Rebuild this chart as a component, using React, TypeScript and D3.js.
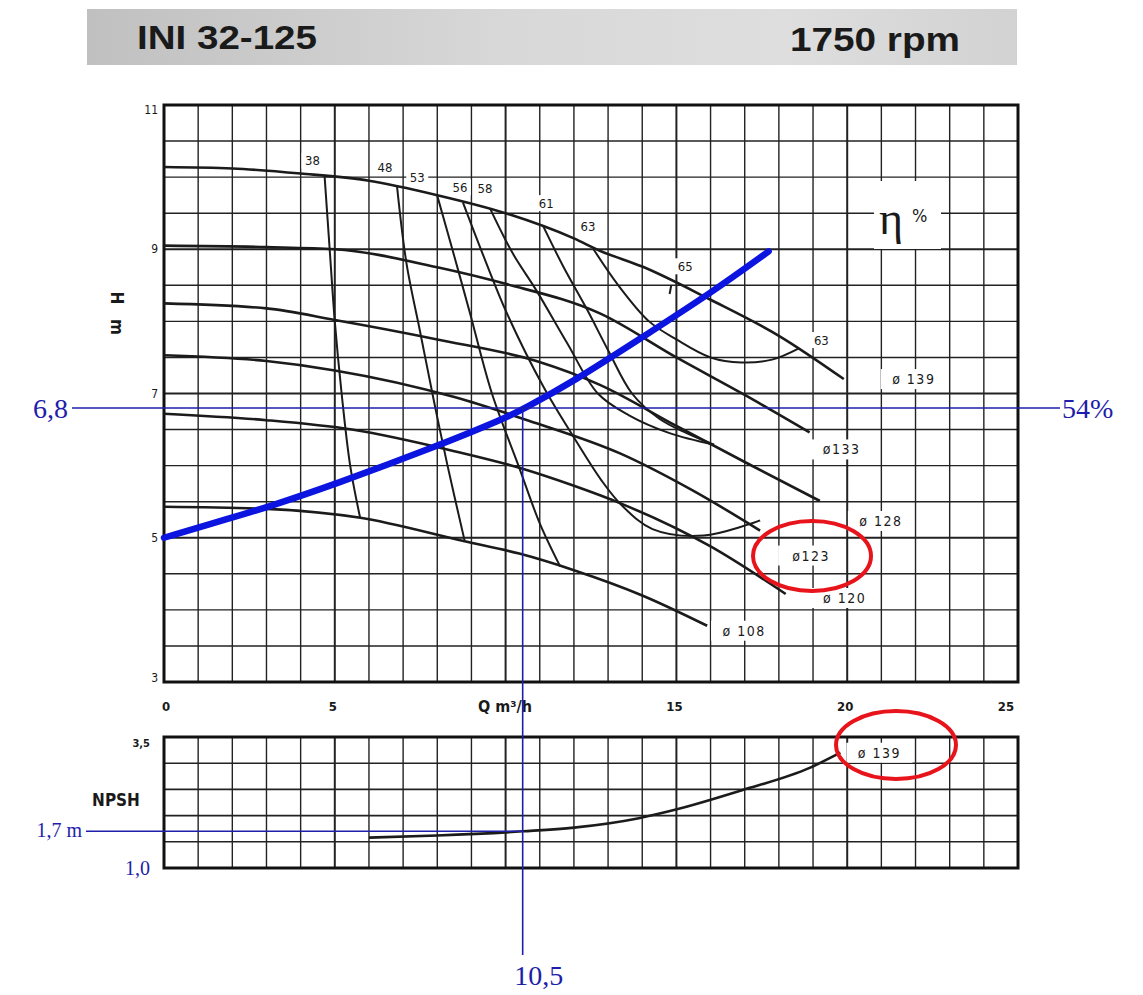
import React from "react";
import * as d3 from "d3";

// header
const modelName = "INI 32-125";
const speedLabel = "1750 rpm";

// axis ticks
const flowTicks = [0, 5, 15, 20, 25];
const headTicks = [3, 5, 7, 9, 11];
const flowUnit = "Q m³/h";

// head curves per impeller diameter  [Q m3/h, H m]
const curve139 = [[0, 10.14], [2, 10.12], [4, 10.05], [6, 9.95], [8, 9.75], [10, 9.5], [12, 9.15], [12.76, 8.98], [14, 8.76], [16, 8.3], [18, 7.8], [19.9, 7.2]];
const curve133 = [[0, 9.05], [3, 9.03], [5, 9.0], [8, 8.75], [10, 8.52], [12.76, 8.11], [15, 7.5], [17, 6.98], [18.9, 6.46]];
const curve128 = [[0, 8.25], [3, 8.18], [5, 8.02], [8, 7.75], [10.9, 7.45], [12.76, 7.12], [15, 6.55], [17, 6.05], [19.2, 5.51]];
const curve123 = [[0, 7.53], [3, 7.45], [5, 7.32], [8.5, 6.95], [10.7, 6.62], [13.35, 6.17], [15.5, 5.65], [17.45, 5.1]];
const curve120 = [[0, 6.72], [3, 6.63], [5.5, 6.5], [8.5, 6.2], [10.4, 5.97], [12, 5.72], [13.4, 5.47], [16, 4.88], [18.2, 4.22]];
const curve108 = [[0, 5.43], [3, 5.4], [5.7, 5.28], [8.8, 4.95], [10.4, 4.78], [12, 4.55], [14, 4.2], [15.9, 3.78]];

// iso-efficiency lines
const eta38 = [[4.7, 10.02], [4.85, 9.0], [5.0, 8.0], [5.2, 7.0], [5.45, 6.0], [5.74, 5.28]];
const eta48 = [[6.82, 9.88], [7.1, 8.8], [7.5, 7.85], [7.9, 6.9], [8.3, 6.0], [8.8, 4.96]];
const eta53 = [[8.0, 9.74], [8.5, 8.9], [8.96, 8.11], [9.6, 7.0], [10.4, 5.97], [11.0, 5.2], [11.6, 4.6]];
const eta56 = [[8.75, 9.65], [9.4, 8.85], [10.04, 8.11], [11.1, 7.1], [12.0, 6.39], [12.8, 5.8], [13.4, 5.45], [14.3, 5.12], [15.8, 5.03], [17.45, 5.24]];
const eta58 = [[9.54, 9.57], [10.2, 8.95], [10.9, 8.43], [11.8, 7.7], [12.7, 7.0], [13.6, 6.7], [14.8, 6.45], [16.1, 6.29]];
const eta61 = [[11.1, 9.32], [11.7, 8.75], [12.4, 8.15], [13.0, 7.6], [13.7, 7.0], [14.5, 6.65], [15.3, 6.45], [16.1, 6.29]];
const eta63 = [[12.56, 9.01], [13.3, 8.5], [14.2, 8.0], [15.0, 7.75], [16.0, 7.5], [16.9, 7.43], [17.8, 7.47], [18.6, 7.63]];
const eta65 = [[14.85, 8.5], [14.8, 8.38]];

// NPSH required, dia 139  [Q m3/h, NPSH m]
const npsh139 = [[6, 1.58], [8, 1.62], [10.5, 1.7], [12, 1.77], [13.9, 1.95], [14.9, 2.1], [16.9, 2.48], [18.9, 2.91], [19.8, 3.2]];

// system curve and duty point
const systemCurve = [[0, 5.0], [2, 5.28], [3, 5.42], [5, 5.74], [8, 6.27], [10, 6.66], [10.5, 6.78], [12, 7.17], [14, 7.78], [16, 8.39], [17.7, 8.97]];
const dutyFlow = 10.5;
const dutyHead = 6.8;
const dutyNpsh = 1.7;
const dutyEff = "54%";

const BLUE = "#1e1eaa";
const FONT = "'DejaVu Sans Condensed', 'DejaVu Sans', sans-serif";
const SERIF = "'Liberation Serif', 'DejaVu Serif', serif";

export default function App() {
  const x = d3.scaleLinear().domain([0, 25]).range([164, 1018]);
  const y = d3.scaleLinear().domain([3, 11]).range([682, 105]);
  const yN = d3.scaleLinear().domain([1, 3.5]).range([868, 737]);

  const hqLine = d3.line<number[]>().x((d) => x(d[0])).y((d) => y(d[1])).curve(d3.curveMonotoneX);
  const isoLine = d3.line<number[]>().x((d) => x(d[0])).y((d) => y(d[1])).curve(d3.curveCatmullRom.alpha(0.5));
  const npshLine = d3.line<number[]>().x((d) => x(d[0])).y((d) => yN(d[1])).curve(d3.curveMonotoneX);
  const sysLine = d3.line<number[]>().x((d) => x(d[0])).y((d) => y(d[1])).curve(d3.curveBasis);

  const diameters = [
    { name: "ø 139", data: curve139, dx: 70, dy: 0 },
    { name: "ø133", data: curve133, dx: 32, dy: 17 },
    { name: "ø 128", data: curve128, dx: 61, dy: 20 },
    { name: "ø123", data: curve123, dx: 51, dy: 25 },
    { name: "ø 120", data: curve120, dx: 59, dy: 4 },
    { name: "ø 108", data: curve108, dx: 37, dy: 5 },
  ];

  const isos = [
    { data: eta38, labels: [{ t: "38", at: 0, dx: -12, dy: -15 }] },
    { data: eta48, labels: [{ t: "48", at: 0, dx: -12, dy: -18 }] },
    { data: eta53, labels: [{ t: "53", at: 0, dx: -20, dy: -18 }] },
    { data: eta56, labels: [{ t: "56", at: 0, dx: -3, dy: -15 }] },
    { data: eta58, labels: [{ t: "58", at: 0, dx: -5, dy: -20 }] },
    { data: eta61, labels: [{ t: "61", at: 0, dx: 3, dy: -23 }] },
    { data: eta63, labels: [{ t: "63", at: 0, dx: -5, dy: -22 }, { t: "63", at: -1, dx: 22, dy: -8 }] },
    { data: eta65, labels: [{ t: "65", at: 0, dx: 14, dy: -19 }] },
  ];

  const isoLabels = isos.flatMap((s) =>
    s.labels.map((l) => {
      const p = l.at === 0 ? s.data[0] : s.data[s.data.length - 1];
      return { t: l.t, cx: x(p[0]) + l.dx, cy: y(p[1]) + l.dy };
    })
  );
  const diaLabels = diameters.map((d) => {
    const p = d.data[d.data.length - 1];
    return { t: d.name, cx: x(p[0]) + d.dx, cy: y(p[1]) + d.dy };
  });

  const qGrid = d3.range(0, 26);
  const hGrid = d3.range(3, 11.01, 0.5);
  const nGrid = d3.range(1, 3.51, 0.5);

  const xd = x(dutyFlow);
  const yd = y(dutyHead);
  const yn = yN(dutyNpsh);
  const npshEnd = npsh139[npsh139.length - 1];

  return (
    <svg width={1143} height={995} style={{ position: "absolute", left: 0, top: 0, background: "#fff" }}>
      <defs>
        <linearGradient id="band" x1="0" x2="1" y1="0" y2="0">
          <stop offset="0" stopColor="#c0c0c0" />
          <stop offset="0.45" stopColor="#d8d8d8" />
          <stop offset="0.75" stopColor="#dedede" />
          <stop offset="1" stopColor="#d2d2d2" />
        </linearGradient>
      </defs>

      {/* header band */}
      <rect x={87} y={9} width={930} height={56} fill="url(#band)" />
      <text x={137} y={49} fontFamily="'Liberation Sans', Arial, sans-serif" fontWeight="bold" fontSize={34}
        textLength={180} lengthAdjust="spacingAndGlyphs" fill="#1a1a1a">{modelName}</text>
      <text x={790} y={51} fontFamily="'Liberation Sans', Arial, sans-serif" fontWeight="bold" fontSize={34}
        textLength={170} lengthAdjust="spacingAndGlyphs" fill="#1a1a1a">{speedLabel}</text>

      {/* main grid */}
      <g stroke="#222">
        {qGrid.map((q) => (
          <line key={"q" + q} x1={x(q)} x2={x(q)} y1={y(11)} y2={y(3)} strokeWidth={q % 5 === 0 ? 2 : 1.4} />
        ))}
        {hGrid.map((h) => (
          <line key={"h" + h} x1={x(0)} x2={x(25)} y1={y(h)} y2={y(h)} strokeWidth={h % 2 === 1 ? 1.9 : 1.4} />
        ))}
      </g>
      <rect x={x(0)} y={y(11)} width={x(25) - x(0)} height={y(3) - y(11)} fill="none" stroke="#111" strokeWidth={3} />

      {/* label knock-outs */}
      <g fill="#fff">
        {isoLabels.map((l, i) => (
          <rect key={"ib" + i} x={l.cx - 11} y={l.cy - 8} width={22} height={16} />
        ))}
        {diaLabels.map((l, i) => (
          <rect key={"db" + i} x={l.cx - 33} y={l.cy - 10} width={66} height={20} />
        ))}
        <rect x={874} y={181} width={67} height={68} />
      </g>

      {/* head curves */}
      <g fill="none" stroke="#1b1b1b" strokeWidth={2.6}>
        {diameters.map((d) => (
          <path key={d.name} d={hqLine(d.data) || ""} />
        ))}
      </g>
      {/* efficiency lines */}
      <g fill="none" stroke="#1b1b1b" strokeWidth={2}>
        {isos.map((s, i) => (
          <path key={"e" + i} d={isoLine(s.data) || ""} />
        ))}
      </g>

      {/* labels */}
      <g fontFamily={FONT} fontSize={13} fill="#1a1a1a" textAnchor="middle" dominantBaseline="central">
        {isoLabels.map((l, i) => (
          <text key={"il" + i} x={l.cx} y={l.cy}>{l.t}</text>
        ))}
      </g>
      <g fontFamily={FONT} fontSize={14} fill="#1a1a1a" textAnchor="middle" dominantBaseline="central" letterSpacing={1.5}>
        {diaLabels.map((l, i) => (
          <text key={"dl" + i} x={l.cx} y={l.cy}>{l.t}</text>
        ))}
      </g>
      <text x={879} y={234} fontFamily={SERIF} fontSize={46} fill="#1a1a1a">η</text>
      <text x={912} y={222} fontFamily={FONT} fontSize={18} fill="#1a1a1a">%</text>

      {/* axes text */}
      <g fontFamily={FONT} fontSize={12} fill="#1a1a1a" textAnchor="end" dominantBaseline="central">
        {headTicks.map((h) => (
          <text key={"ht" + h} x={158} y={y(h) + (h === 11 ? 5 : h === 3 ? -4 : 0)}>{h}</text>
        ))}
      </g>
      <g fontFamily={FONT} fontSize={13} fontWeight="bold" fill="#1a1a1a" textAnchor="middle">
        {flowTicks.map((q) => (
          <text key={"qt" + q} x={x(q) + (q === 0 ? 2 : q === 25 ? -12 : -2)} y={711}>{q}</text>
        ))}
        <text x={505} y={712} fontSize={16}>{flowUnit}</text>
      </g>
      <g fontFamily={FONT} fontSize={17} fontWeight="bold" fill="#1a1a1a">
        <text transform="translate(111,298) rotate(90)" textAnchor="middle">H</text>
        <text transform="translate(111,327) rotate(90)" textAnchor="middle">m</text>
      </g>

      {/* NPSH panel */}
      <g stroke="#222">
        {qGrid.map((q) => (
          <line key={"nq" + q} x1={x(q)} x2={x(q)} y1={yN(3.5)} y2={yN(1)} strokeWidth={q % 5 === 0 ? 2 : 1.4} />
        ))}
        {nGrid.map((n) => (
          <line key={"nh" + n} x1={x(0)} x2={x(25)} y1={yN(n)} y2={yN(n)} strokeWidth={1.6} />
        ))}
      </g>
      <rect x={x(0)} y={yN(3.5)} width={x(25) - x(0)} height={yN(1) - yN(3.5)} fill="none" stroke="#111" strokeWidth={3} />
      <rect x={x(npshEnd[0]) + 6} y={yN(npshEnd[1]) - 10} width={66} height={20} fill="#fff" />
      <path d={npshLine(npsh139) || ""} fill="none" stroke="#1b1b1b" strokeWidth={2.6} />
      <text x={x(npshEnd[0]) + 39} y={yN(npshEnd[1])} fontFamily={FONT} fontSize={14} letterSpacing={1.5}
        textAnchor="middle" dominantBaseline="central" fill="#1a1a1a">ø 139</text>
      <text x={150} y={747} fontFamily={FONT} fontSize={11} fontWeight="bold" textAnchor="end" fill="#1a1a1a">3,5</text>
      <text x={116} y={806} fontFamily={FONT} fontSize={17} fontWeight="bold" textAnchor="middle" fill="#1a1a1a">NPSH</text>

      {/* system curve */}
      <path d={sysLine(systemCurve) || ""} fill="none" stroke="#0c14e0" strokeWidth={6.5} strokeLinecap="round" />

      {/* duty point annotations */}
      <g stroke={BLUE} strokeWidth={1.6}>
        <line x1={72} x2={1060} y1={yd} y2={yd} />
        <line x1={xd} x2={xd} y1={yd} y2={955} />
        <line x1={86} x2={xd} y1={yn} y2={yn} />
      </g>
      <g fontFamily={SERIF} fill={BLUE}>
        <text x={68} y={yd + 10} fontSize={28} textAnchor="end">{String(dutyHead).replace(".", ",")}</text>
        <text x={1062} y={yd + 10} fontSize={28}>{dutyEff}</text>
        <text x={xd + 16} y={985} fontSize={28} textAnchor="middle">{String(dutyFlow).replace(".", ",")}</text>
        <text x={82} y={yn + 6} fontSize={20} textAnchor="end">{String(dutyNpsh).replace(".", ",")} m</text>
        <text x={150} y={yN(1) + 7} fontSize={20} textAnchor="end">1,0</text>
      </g>

      {/* highlights */}
      <g fill="none" stroke="#e8141c" strokeWidth={4}>
        <ellipse cx={812} cy={556} rx={59} ry={35} />
        <ellipse cx={896} cy={745} rx={60} ry={34} />
      </g>
    </svg>
  );
}
